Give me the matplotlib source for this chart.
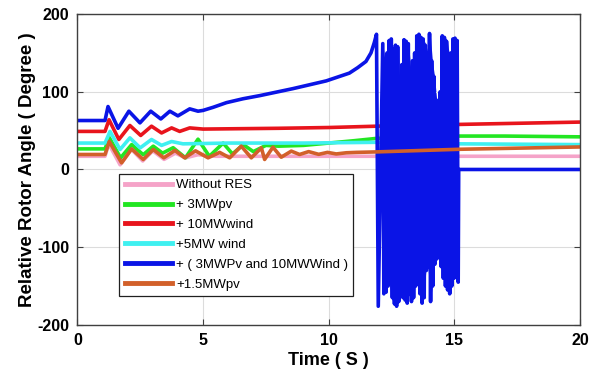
import matplotlib.pyplot as plt
import numpy as np

# without RES (pink)
PINK_T = [0, 1.1, 1.25, 1.7, 2.15, 2.6, 3.0, 3.45, 3.9, 4.3, 4.8, 5.5, 20]
PINK_V = [17, 17, 33, 6, 26, 11, 24, 13, 21, 15, 19, 17, 17]

# +3MWpv (green)
GREEN_T = [0, 1.1, 1.27, 1.72, 2.16, 2.62, 3.02, 3.39, 3.81, 4.3, 4.8, 5.25, 5.8,
           6.17, 6.6, 7.0, 7.5, 8.0, 9.0, 10.0, 11.0, 11.9, 15.2, 17.0, 20.0]
GREEN_V = [26.5, 26.5, 41, 15, 32, 19, 30, 21, 28, 15, 39, 17, 34,
           20, 32, 23, 31, 30, 31, 34, 37, 40, 43, 43, 42]

# +10MWwind (red)
RED_T = [0, 1.1, 1.26, 1.65, 2.09, 2.52, 2.95, 3.35, 3.75, 4.07, 4.47, 5.0, 8.0,
         10.0, 11.9, 15.2, 20.0]
RED_V = [49, 49, 64, 38.6, 56.6, 43.8, 55.7, 47, 53.5, 49, 53.5, 52, 53,
         54, 55.7, 58, 61]

# +5MW wind (cyan)
CYAN_T = [0, 1.1, 1.3, 1.7, 2.09, 2.5, 2.95, 3.35, 3.75, 4.2, 6.0, 9.0, 12.0, 15.2, 20.0]
CYAN_V = [34, 34, 49, 25.7, 40.7, 27.8, 38.6, 31, 36, 33, 34, 34, 35, 33, 32]

# +(3MWPv and 10MWWind) (blue), before and after the burst
BLUE_T = [0, 1.1, 1.22, 1.62, 2.05, 2.49, 2.92, 3.32, 3.68, 4.0, 4.47, 4.8, 5.0,
          5.4, 5.93, 6.59, 7.25, 8.57, 9.9, 10.82, 11.15, 11.48, 11.68, 11.81, 11.9, 11.97]
BLUE_V = [63, 63, 81, 53, 75, 60, 75, 65, 75, 69, 78, 75, 76,
          80, 86, 91, 95, 104, 114, 124, 131, 139, 150, 163, 174, -176]
BURST_START, BURST_END = 12.15, 15.15
BURST_TOP = [162, 140, 150, 166, 168, 155, 160, 158, 110, 135, 167, 165, 162, 128, 140, 150,
             172, 174, 170, 168, 160, 150, 175, 140, 120, 90, 78, 100, 172, 170, 165, 145,
             150, 168, 169, 166]
BURST_BOTTOM = [-160, -158, -150, -145, -165, -173, -176, -170, -160, -165, -168, -172,
                -160, -170, -165, -150, -140, -160, -172, -165, -130, -125, -170, -150,
                -122, -115, -107, -125, -140, -150, -155, -160, -150, -140, -138, -145]
BLUE_AFTER_T = [15.17, 20.0]
BLUE_AFTER_V = [0, 0]

# +1.5MWpv (orange)
ORANGE_T = [0, 1.1, 1.27, 1.76, 2.16, 2.62, 3.02, 3.44, 3.88, 4.27, 4.7, 5.2, 5.66,
            6.06, 6.52, 6.92, 7.32, 7.45, 7.78, 8.11, 8.51, 8.84, 9.2, 9.6, 9.95,
            10.3, 10.7, 11.1, 11.88, 15.2, 20.0]
ORANGE_V = [19.3, 19.3, 36, 8.5, 26.5, 12.9, 25.7, 15, 24.5, 15, 24, 15, 22,
            15, 30, 15, 27.8, 12.9, 28.7, 15.8, 23.6, 19.3, 23, 19.5, 22,
            20, 21.5, 22, 22.6, 26, 29]

LABELS = ['Without RES', '+ 3MWpv', '+ 10MWwind', '+5MW wind',
          '+ ( 3MWPv and 10MWWind )', '+1.5MWpv']
COLORS = ['#f5a3c8', '#22e622', '#e8141c', '#3ff0f0', '#0a14e6', '#d2602a']
BLUE = '#0a14e6'

# interleave the burst tops and bottoms into one zigzag
burst_v = np.empty(2 * len(BURST_TOP))
burst_v[0::2] = BURST_TOP
burst_v[1::2] = BURST_BOTTOM
burst_t = np.linspace(BURST_START, BURST_END, len(burst_v))
blue_t = np.concatenate([BLUE_T, burst_t, BLUE_AFTER_T])
blue_v = np.concatenate([BLUE_V, burst_v, BLUE_AFTER_V])

plt.rcParams['font.family'] = ['Liberation Sans', 'DejaVu Sans']

fig = plt.figure(figsize=(5.95, 3.8), dpi=100)
ax = fig.add_axes([0.13, 0.145, 0.845, 0.818])

series = [(PINK_T, PINK_V), (GREEN_T, GREEN_V), (RED_T, RED_V), (CYAN_T, CYAN_V),
          (blue_t, blue_v), (ORANGE_T, ORANGE_V)]
for (t, v), label, color in zip(series, LABELS, COLORS):
    if color == BLUE:
        # the burst reads as a solid band in the original
        env_t = np.linspace(BURST_START, BURST_END, len(BURST_TOP))
        ax.fill_between(env_t, BURST_BOTTOM, BURST_TOP, color=BLUE, lw=0)
    ax.plot(t, v, color=color, lw=2.6, label=label)

ax.set_xlim(0, 20)
ax.set_ylim(-200, 200)
ax.set_xticks([0, 5, 10, 15, 20])
ax.set_yticks([-200, -100, 0, 100, 200])
ax.set_yticklabels(['-200', '-100', '0', '100', '200'])
ax.grid(True, color='#dcdcdc', lw=0.8)
ax.tick_params(direction='in', top=True, right=True, length=4, color='#404040',
               labelsize=11.5, pad=6)
for lbl in ax.get_xticklabels() + ax.get_yticklabels():
    lbl.set_fontweight('bold')
for sp in ax.spines.values():
    sp.set_color('#404040')
    sp.set_linewidth(1.0)

ax.set_xlabel('Time ( S )', fontsize=13, fontweight='bold', labelpad=3)
ax.set_ylabel('Relative Rotor Angle ( Degree )', fontsize=13.5, fontweight='bold', labelpad=1)

leg = ax.legend(loc='lower left', bbox_to_anchor=(0.0835, 0.093), fontsize=9.5,
                fancybox=False, framealpha=1, edgecolor='#202020',
                handlelength=3.6, handletextpad=0.3, labelspacing=0.58,
                borderpad=0.4, borderaxespad=0)
for line in leg.get_lines():
    line.set_linewidth(3.5)
leg.get_frame().set_linewidth(0.9)

fig.savefig('out.png', dpi=100)
